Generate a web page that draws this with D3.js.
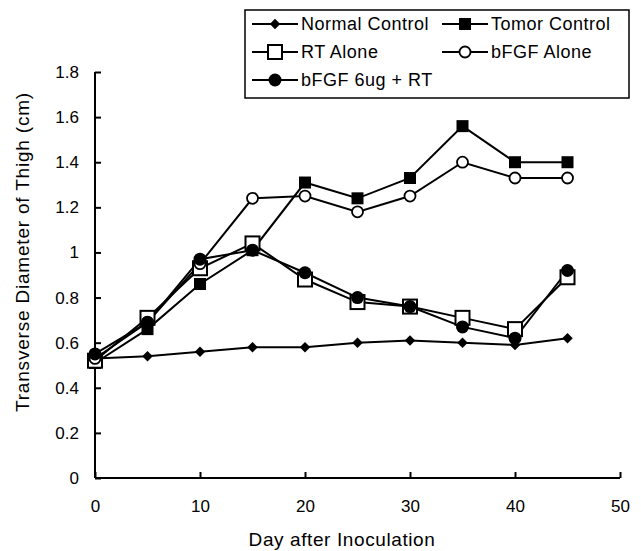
<!DOCTYPE html>
<html>
<head>
<meta charset="utf-8">
<script src="https://cdn.jsdelivr.net/npm/d3@7"></script>
<style>
  body { margin: 0; background: #fff; }
  text { font-family: "Liberation Sans", Arial, sans-serif; fill: #000; }
</style>
</head>
<body>
<div id="container-chart"></div>
<script>
const days = [0, 5, 10, 15, 20, 25, 30, 35, 40, 45];
const normalControl = [0.53, 0.54, 0.56, 0.58, 0.58, 0.60, 0.61, 0.60, 0.59, 0.62];
const tumorControl  = [0.51, 0.66, 0.86, 1.01, 1.31, 1.24, 1.33, 1.56, 1.40, 1.40];
const rtAlone       = [0.52, 0.71, 0.93, 1.04, 0.88, 0.78, 0.76, 0.71, 0.66, 0.89];
const bfgfAlone     = [0.53, 0.69, 0.95, 1.24, 1.25, 1.18, 1.25, 1.40, 1.33, 1.33];
const bfgfRT        = [0.55, 0.69, 0.97, 1.01, 0.91, 0.80, 0.76, 0.67, 0.62, 0.92];
const xTicks = [0, 10, 20, 30, 40, 50];
const yTicks = [0, 0.2, 0.4, 0.6, 0.8, 1, 1.2, 1.4, 1.6, 1.8];

const series = [
  {name: "Normal Control", values: normalControl, marker: "diamond"},
  {name: "Tomor Control", values: tumorControl, marker: "fsquare"},
  {name: "RT Alone", values: rtAlone, marker: "osquare"},
  {name: "bFGF Alone", values: bfgfAlone, marker: "ocircle"},
  {name: "bFGF 6ug + RT", values: bfgfRT, marker: "fcircle"}
];

const W = 641, H = 551;
const svg = d3.select("#container-chart").append("svg")
  .attr("width", W).attr("height", H);

const x = d3.scaleLinear().domain([0, 50]).range([95, 620]);
const y = d3.scaleLinear().domain([0, 1.8]).range([478, 72]);

// axes
const xAxis = svg.append("g")
  .attr("transform", "translate(0," + y(0) + ")")
  .call(d3.axisBottom(x).tickValues(xTicks).tickSize(-6).tickPadding(22).tickFormat(d3.format("d")));
const yAxis = svg.append("g")
  .attr("transform", "translate(" + x(0) + ",0)")
  .call(d3.axisLeft(y).tickValues(yTicks).tickSize(-6).tickPadding(16).tickFormat(d => d === 0 || d === 1 ? d : d3.format(".1f")(d)));
[xAxis, yAxis].forEach(a => {
  a.select(".domain").attr("stroke", "#000").attr("stroke-width", 2);
  a.selectAll(".tick line").attr("stroke", "#000").attr("stroke-width", 2);
  a.selectAll(".tick text").style("font-size", "17px").attr("fill", "#000");
});
xAxis.select(".domain").attr("d", "M" + x(0) + ",0H" + x(50));
yAxis.select(".domain").attr("d", "M0," + y(0) + "V" + y(1.8));

svg.append("text").attr("x", 342).attr("y", 546).attr("text-anchor", "middle")
  .style("font-size", "19px").style("letter-spacing", "0.6px").text("Day after Inoculation");
svg.append("text").attr("transform", "translate(29," + 252 + ") rotate(-90)")
  .attr("text-anchor", "middle").style("font-size", "19px").style("letter-spacing", "0.8px")
  .text("Transverse Diameter of Thigh (cm)");

function drawMarker(g, type) {
  if (type === "diamond") {
    g.append("path").attr("d", d3.symbol().type(d3.symbolDiamond2).size(70)()).attr("fill", "#000");
  } else if (type === "fsquare") {
    g.append("rect").attr("x", -6).attr("y", -6).attr("width", 12).attr("height", 12).attr("fill", "#000");
  } else if (type === "osquare") {
    g.append("rect").attr("x", -7).attr("y", -7).attr("width", 14).attr("height", 14)
      .attr("fill", "#fff").attr("stroke", "#000").attr("stroke-width", 2);
  } else if (type === "ocircle") {
    g.append("circle").attr("r", 5.5).attr("fill", "#fff").attr("stroke", "#000").attr("stroke-width", 1.8);
  } else {
    g.append("circle").attr("r", 6.5).attr("fill", "#000");
  }
}

const line = d3.line().x((d, i) => x(days[i])).y(d => y(d));

series.forEach(s => {
  svg.append("path").datum(s.values)
    .attr("fill", "none").attr("stroke", "#000").attr("stroke-width", 2)
    .attr("d", line);
});
series.forEach(s => {
  s.values.forEach((v, i) => {
    const g = svg.append("g").attr("transform", "translate(" + x(days[i]) + "," + y(v) + ")");
    drawMarker(g, s.marker);
  });
});

// legend
const legend = svg.append("g");
legend.append("rect").attr("x", 245).attr("y", 10).attr("width", 384).attr("height", 88)
  .attr("fill", "#fff").attr("stroke", "#000").attr("stroke-width", 1.5);
const legendPos = [[252, 24], [442, 24], [252, 52], [442, 52], [252, 80]];
series.forEach((s, i) => {
  const [lx, ly] = legendPos[i];
  const g = legend.append("g").attr("transform", "translate(" + lx + "," + ly + ")");
  g.append("line").attr("x1", 0).attr("x2", 46).attr("y1", 0).attr("y2", 0)
    .attr("stroke", "#000").attr("stroke-width", 2);
  const m = g.append("g").attr("transform", "translate(23,0)");
  drawMarker(m, s.marker);
  g.append("text").attr("x", 49).attr("y", 6).style("font-size", "18px").style("letter-spacing", "0.5px").text(s.name);
});
</script>
</body>
</html>
